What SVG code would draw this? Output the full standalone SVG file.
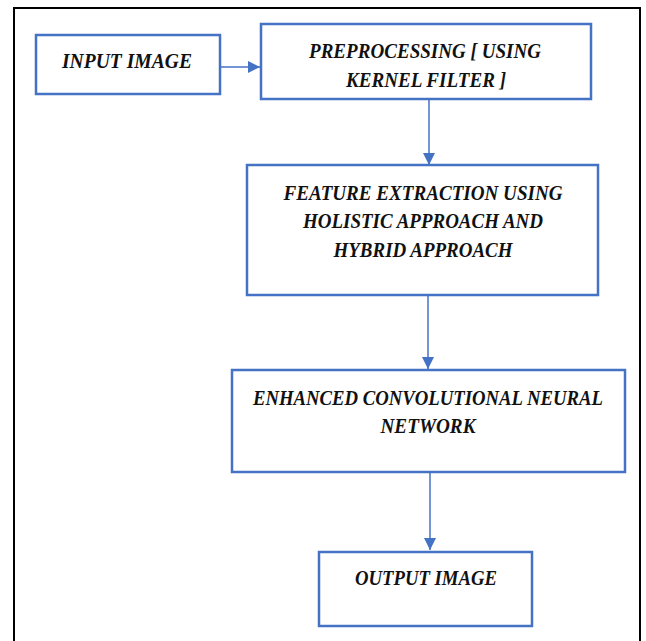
<svg xmlns="http://www.w3.org/2000/svg" width="646" height="641" viewBox="0 0 646 641">
<defs>
<style>
.box{fill:#fff;stroke:#4472C4;stroke-width:2.5}
.lbl{font-family:"Liberation Serif","Times New Roman",serif;font-weight:bold;font-style:italic;font-size:22px;fill:#111;text-anchor:middle}
.conn{stroke:#4472C4;stroke-width:1.5;fill:none}
</style>
<marker id="ah" markerUnits="userSpaceOnUse" markerWidth="14" markerHeight="14" refX="12" refY="6" orient="auto">
<path d="M0,0 L12,6 L0,12 Z" fill="#4472C4"/>
</marker>
</defs>
<rect width="646" height="641" fill="#fff"/>
<rect x="14" y="8" width="626" height="650" fill="none" stroke="#000" stroke-width="2"/>
<g id="connectors">
<line class="conn" x1="221" y1="67" x2="260" y2="67" marker-end="url(#ah)"/>
<line class="conn" x1="429" y1="99" x2="429" y2="165" marker-end="url(#ah)"/>
<line class="conn" x1="428" y1="295" x2="428" y2="369" marker-end="url(#ah)"/>
<line class="conn" x1="430" y1="472" x2="430" y2="550" marker-end="url(#ah)"/>
</g>
<g id="input">
<rect class="box" x="36" y="35" width="184" height="59"/>
<text class="lbl" x="127" y="68" textLength="130" lengthAdjust="spacingAndGlyphs">INPUT IMAGE</text>
</g>
<g id="preprocessing">
<rect class="box" x="261" y="24" width="330" height="75"/>
<text class="lbl" x="425" y="58" textLength="232" lengthAdjust="spacingAndGlyphs">PREPROCESSING [ USING</text>
<text class="lbl" x="426" y="87" textLength="160" lengthAdjust="spacingAndGlyphs">KERNEL FILTER ]</text>
</g>
<g id="feature">
<rect class="box" x="247" y="165" width="351" height="130"/>
<text class="lbl" x="423" y="200" textLength="279" lengthAdjust="spacingAndGlyphs">FEATURE EXTRACTION USING</text>
<text class="lbl" x="423" y="228" textLength="240" lengthAdjust="spacingAndGlyphs">HOLISTIC APPROACH AND</text>
<text class="lbl" x="423" y="257" textLength="179" lengthAdjust="spacingAndGlyphs">HYBRID APPROACH</text>
</g>
<g id="ecnn">
<rect class="box" x="232" y="370" width="393" height="102"/>
<text class="lbl" x="428" y="405" textLength="350" lengthAdjust="spacingAndGlyphs">ENHANCED CONVOLUTIONAL NEURAL</text>
<text class="lbl" x="428" y="433" textLength="95" lengthAdjust="spacingAndGlyphs">NETWORK</text>
</g>
<g id="output">
<rect class="box" x="319" y="552" width="213" height="74"/>
<text class="lbl" x="426" y="585" textLength="142" lengthAdjust="spacingAndGlyphs">OUTPUT IMAGE</text>
</g>
</svg>
